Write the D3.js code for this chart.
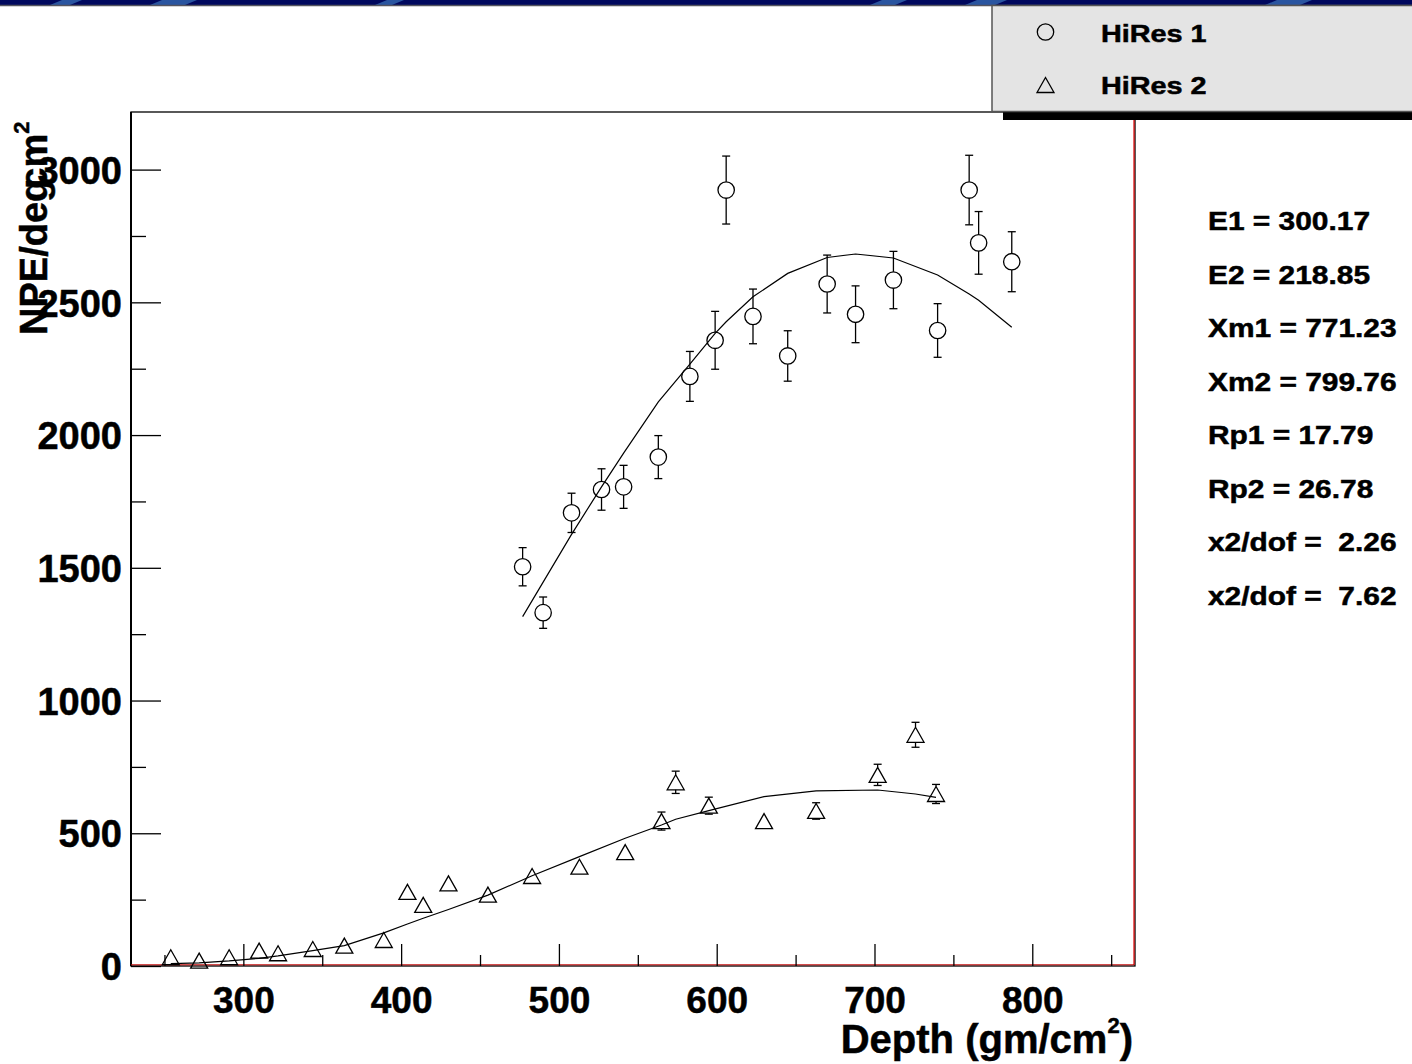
<!DOCTYPE html>
<html>
<head>
<meta charset="utf-8">
<script src="https://cdn.jsdelivr.net/npm/d3@7"></script>
<style>
  html, body { margin: 0; padding: 0; background: #fff; }
  svg { display: block; }
  text { font-family: "Liberation Sans", Arial, Helvetica, sans-serif; font-weight: bold; fill: #000;
         stroke: #000; stroke-width: 0.5px; }
</style>
</head>
<body>
<script>
// HiRes 1 measurements: slant depth (gm/cm^2), photoelectrons per deg cm^2, error, fit value
const hr1Depth = [477, 490, 508, 527, 541, 563, 583, 599, 606, 623, 645, 670, 688, 712, 740, 760, 766, 787];
const hr1Npe   = [1504, 1331, 1707, 1795, 1805, 1917, 2221, 2357, 2923, 2447, 2298, 2569, 2455, 2584, 2394, 2923, 2724, 2653];
const hr1Err   = [72, 59, 74, 78, 81, 81, 94, 109, 128, 103, 95, 109, 107, 108, 101, 131, 118, 113];
const hr1Fit   = [1316, 1446, 1626, 1805, 1932, 2125, 2267, 2383, 2427, 2521, 2609, 2669, 2682, 2667, 2603, 2531, 2508, 2406];

// HiRes 2 measurements
const hr2Depth = [254, 272, 291, 310, 322, 344, 364, 389, 404, 414, 430, 455, 483, 513, 542, 565, 574, 595, 630, 663, 702, 726, 739];
const hr2Npe   = [33, 20, 33, 58, 48, 64, 77, 98, 279, 230, 311, 269, 339, 374, 429, 546, 692, 604, 546, 584, 720, 871, 648];
const hr2Err   = [8, 8, 9, 10, 10, 11, 12, 14, 18, 16, 18, 18, 20, 22, 25, 34, 42, 32, 25, 31, 40, 47, 36];
const hr2Fit   = [9, 12, 19, 29, 38, 58, 77, 125, 158, 180, 213, 267, 340, 412, 481, 531, 553, 585, 638, 660, 663, 648, 635];

// Axis ticks
const xMajorTicks = [300, 400, 500, 600, 700, 800];
const xMinorTicks = [250, 350, 450, 550, 650, 750, 850];
const yMajorTicks = [0, 500, 1000, 1500, 2000, 2500, 3000];
const yMinorTicks = [250, 750, 1250, 1750, 2250, 2750];

// Legend and fit parameters
const legendLabels = ["HiRes 1", "HiRes 2"];
const fitParams = ["E1 = 300.17", "E2 = 218.85", "Xm1 = 771.23", "Xm2 = 799.76",
                   "Rp1 = 17.79", "Rp2 = 26.78", "x2/dof =  2.26", "x2/dof =  7.62"];

const W = 1412, H = 1064;
const plot = { left: 131, right: 1135, top: 112, bottom: 966 };

const svg = d3.select("body").append("svg").attr("width", W).attr("height", H);

// Slide banner along the top edge
const banner = svg.append("g");
banner.append("rect").attr("x", 0).attr("y", 0).attr("width", W).attr("height", 5).attr("fill", "#00085e");
[[50, 70], [150, 185], [375, 392], [870, 895], [965, 995], [1265, 1300]].forEach(([a, b]) => {
  banner.append("polygon")
    .attr("points", `${a},5 ${b},5 ${b + 12},0 ${a + 12},0`)
    .attr("fill", "#2a55a0");
});
banner.append("line").attr("x1", 0).attr("x2", W).attr("y1", 5.5).attr("y2", 5.5)
  .attr("stroke", "#55555f").attr("stroke-width", 1.5);

const x = d3.scaleLinear().domain([228.8, 865.1]).range([plot.left, plot.right]);
const y = d3.scaleLinear().domain([0, 3217]).range([plot.bottom, plot.top]);

// Frame
svg.append("rect")
  .attr("x", plot.left).attr("y", plot.top)
  .attr("width", plot.right - plot.left).attr("height", plot.bottom - plot.top)
  .attr("fill", "none").attr("stroke", "#000").attr("stroke-width", 1.3);
svg.append("line").attr("x1", plot.left).attr("x2", plot.left).attr("y1", plot.top).attr("y2", plot.bottom)
  .attr("stroke", "#000").attr("stroke-width", 2);
svg.append("line").attr("x1", plot.right - 1).attr("x2", plot.right - 1).attr("y1", 120).attr("y2", plot.bottom - 1)
  .attr("stroke", "#e00000").attr("stroke-width", 1.2);
svg.append("line").attr("x1", plot.left).attr("x2", plot.right - 1).attr("y1", plot.bottom - 1.2).attr("y2", plot.bottom - 1.2)
  .attr("stroke", "#c00000").attr("stroke-width", 1);

// X axis (ticks pointing into the frame)
const xAxisMajor = d3.axisBottom(x).tickValues(xMajorTicks).tickSizeInner(-22).tickSizeOuter(0).tickPadding(47)
  .tickFormat(d3.format("d"));
const xAxisMinor = d3.axisBottom(x).tickValues(xMinorTicks).tickSizeInner(-11).tickSizeOuter(0).tickFormat("");
const gxMinor = svg.append("g").attr("transform", `translate(0,${plot.bottom})`).call(xAxisMinor);
const gx = svg.append("g").attr("transform", `translate(0,${plot.bottom})`).call(xAxisMajor);
[gx, gxMinor].forEach(g => {
  g.select(".domain").remove();
  g.selectAll(".tick line").attr("stroke", "#000").attr("stroke-width", 1.3);
});
gx.selectAll(".tick text").attr("font-size", 37).attr("dy", 0).attr("y", 47).attr("fill", "#000");

// Y axis
const yAxisMajor = d3.axisLeft(y).tickValues(yMajorTicks).tickSizeInner(-30).tickSizeOuter(0).tickPadding(9)
  .tickFormat(d3.format("d"));
const yAxisMinor = d3.axisLeft(y).tickValues(yMinorTicks).tickSizeInner(-15).tickSizeOuter(0).tickFormat("");
const gyMinor = svg.append("g").attr("transform", `translate(${plot.left},0)`).call(yAxisMinor);
const gy = svg.append("g").attr("transform", `translate(${plot.left},0)`).call(yAxisMajor);
[gy, gyMinor].forEach(g => {
  g.select(".domain").remove();
  g.selectAll(".tick line").attr("stroke", "#000").attr("stroke-width", 1.3);
});
gy.selectAll(".tick text").attr("font-size", 38).attr("dy", "0.36em").attr("fill", "#000");

// Axis titles
const xTitle = svg.append("text").attr("x", 1133).attr("y", 1053).attr("text-anchor", "end").attr("font-size", 40);
xTitle.append("tspan").text("Depth (gm/cm");
xTitle.append("tspan").attr("font-size", 22).attr("dy", -20).text("2");
xTitle.append("tspan").attr("dy", 20).text(")");

const yTitle = svg.append("text").attr("transform", "translate(47,335) rotate(-90)").attr("font-size", 38);
yTitle.append("tspan").text("NPE/deg");
yTitle.append("tspan").attr("dx", -10).text("cm");
yTitle.append("tspan").attr("font-size", 22).attr("dy", -18).text("2");

// Markers
const R = 8.2;       // circle radius
const TH = 7.5;      // triangle half height
const triPath = (cx, cy) => `M${cx},${cy - TH} L${cx + 8.5},${cy + TH} L${cx - 8.5},${cy + TH} Z`;

function errorBars(g, xs, ys, es, half) {
  xs.forEach((d, i) => {
    const cx = x(d), cy = y(ys[i]);
    const up = y(ys[i] + es[i]), dn = y(ys[i] - es[i]);
    if (cy - up <= half) return;
    g.append("line").attr("x1", cx).attr("x2", cx).attr("y1", cy - half).attr("y2", up);
    g.append("line").attr("x1", cx).attr("x2", cx).attr("y1", cy + half).attr("y2", dn);
    g.append("line").attr("x1", cx - 4).attr("x2", cx + 4).attr("y1", up).attr("y2", up);
    g.append("line").attr("x1", cx - 4).attr("x2", cx + 4).attr("y1", dn).attr("y2", dn);
  });
}

const line = d3.line().x(d => x(d[0])).y(d => y(d[1]));

const gFit = svg.append("g").attr("fill", "none").attr("stroke", "#000").attr("stroke-width", 1.2);
gFit.append("path").attr("d", line(hr1Depth.map((d, i) => [d, hr1Fit[i]])));
gFit.append("path").attr("d", line(hr2Depth.map((d, i) => [d, hr2Fit[i]])));

const gErr = svg.append("g").attr("stroke", "#000").attr("stroke-width", 1.3);
errorBars(gErr, hr1Depth, hr1Npe, hr1Err, R);
errorBars(gErr, hr2Depth, hr2Npe, hr2Err, TH);

const gPts = svg.append("g").attr("fill", "none").attr("stroke", "#000").attr("stroke-width", 1.3);
gPts.selectAll("circle.hr1").data(hr1Depth).join("circle")
  .attr("class", "hr1")
  .attr("cx", d => x(d)).attr("cy", (d, i) => y(hr1Npe[i])).attr("r", R);
gPts.selectAll("path.hr2").data(hr2Depth).join("path")
  .attr("class", "hr2")
  .attr("d", (d, i) => triPath(x(d), y(hr2Npe[i])));

// Legend box with shadow
svg.append("rect").attr("x", 1003).attr("y", 111).attr("width", W - 1003).attr("height", 9).attr("fill", "#000");
svg.append("rect").attr("x", 992).attr("y", 5.5).attr("width", W - 992 + 5).attr("height", 106)
  .attr("fill", "#e4e4e4").attr("stroke", "#555").attr("stroke-width", 1.5);
svg.append("circle").attr("cx", 1045.5).attr("cy", 32).attr("r", R)
  .attr("fill", "none").attr("stroke", "#000").attr("stroke-width", 1.3);
svg.append("path").attr("d", triPath(1045.5, 85))
  .attr("fill", "none").attr("stroke", "#000").attr("stroke-width", 1.3);
legendLabels.forEach((t, i) => {
  svg.append("text").attr("transform", `translate(1101,${42 + i * 52}) scale(1.2,1)`)
    .attr("font-size", 24).text(t);
});

// Fit parameters
fitParams.forEach((t, i) => {
  svg.append("text").attr("transform", `translate(1208,${230 + i * 53.5}) scale(1.15,1)`)
    .attr("font-size", 26).style("white-space", "pre").text(t);
});
</script>
</body>
</html>
